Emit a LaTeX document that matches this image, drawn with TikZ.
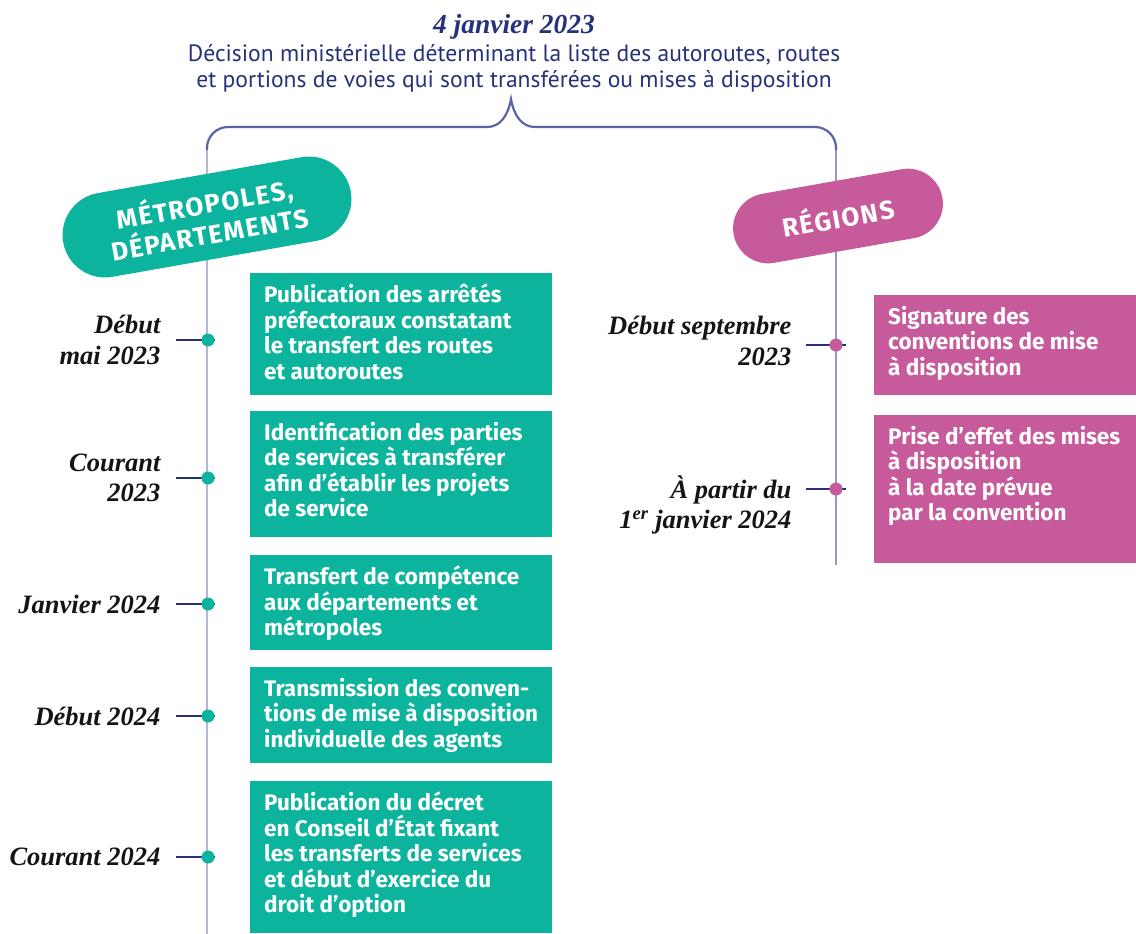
\documentclass[tikz,border=0pt]{standalone}
\usepackage{fontspec}
\setmainfont{Liberation Serif}
\newfontfamily\boxfont{Fira Sans}
\newfontfamily\pillfont[LetterSpace=6]{Fira Sans}
\newfontfamily\subfont{PT Sans}
\usetikzlibrary{calc}
\definecolor{tealc}{HTML}{0DB49D}
\definecolor{pinkc}{HTML}{C75A9B}
\definecolor{navyc}{HTML}{27307A}
\definecolor{bracec}{HTML}{5A63A6}
\definecolor{linec}{HTML}{B5B7D5}
\definecolor{linec2}{HTML}{9398C8}
\definecolor{labc}{HTML}{141414}
\newcommand{\bxt}[3]{\parbox[c][#1pt][t]{#2pt}{\raggedright #3}}
\tikzset{
  tbox/.style={fill=tealc, anchor=north west, inner xsep=14pt, inner ysep=11pt,
     text=white, font=\boxfont\bfseries\fontsize{22.5}{25.5}\selectfont},
  pbox/.style={tbox, fill=pinkc},
  datelab/.style={anchor=east, align=right, text=labc,
     font=\bfseries\itshape\fontsize{26.5}{30.5}\selectfont},
  tick/.style={draw=navyc, line width=1.6pt},
  dotL/.style={circle, fill=tealc, inner sep=0pt, minimum size=13pt},
  dotR/.style={circle, fill=pinkc, inner sep=0pt, minimum size=13pt},
  pill/.style={rounded corners=#1, inner sep=0pt, text=white, align=center,
     font=\pillfont\bfseries\fontsize{26}{29}\selectfont},
}
\begin{document}
\begin{tikzpicture}[x=1pt,y=-1pt]
\useasboundingbox (0,0) rectangle (1136,934);
% header
\node[text=navyc, font=\bfseries\itshape\fontsize{27.5}{30}\selectfont] (title) at (514,27) {4 janvier 2023};
\node[text=navyc, align=center, font=\subfont\fontsize{23.6}{26}\selectfont] (sub) at (514,68)
  {Décision ministérielle déterminant la liste des autoroutes, routes\\
   et portions de voies qui sont transférées ou mises à disposition};
% brace
\coordinate (cusp) at (511,99);
\coordinate (topL) at (207,150);
\coordinate (topR) at (836,150);
\coordinate (botL) at (207,934);
\coordinate (botR) at (836,565);
\draw[linec, line width=2.8pt] (topL) -- (botL);
\draw[linec2, line width=2.4pt] (topR) -- (botR);
\draw[bracec, line width=2.2pt] (topL) -- (207,148) arc[start angle=180, end angle=270, radius=21]
  -- (487,127) .. controls (500,127) and (508,116) .. (cusp)
  .. controls (514,116) and (522,127) .. (535,127) -- (815,127)
  arc[start angle=270, end angle=360, radius=21] -- (topR);
% pills
\node[pill=42.5pt, fill=tealc, minimum width=292pt, minimum height=85pt, rotate=10] (pillL) at (207,217)
  {MÉTROPOLES,\\DÉPARTEMENTS};
\node[pill=35pt, fill=pinkc, minimum width=212pt, minimum height=70pt, rotate=10] (pillR) at (838,216)
  {RÉGIONS};
% left boxes
\node[tbox] (b1) at (250,273) {\bxt{100}{274}{Publication des arrêtés\\préfectoraux constatant\\le transfert des routes\\et autoroutes}};
\node[tbox] (b2) at (250,411) {\bxt{104}{274}{Identification des parties\\de services à transférer\\afin d’établir les projets\\de service}};
\node[tbox] (b3) at (250,555) {\bxt{73}{274}{Transfert de compétence\\aux départements et\\métropoles}};
\node[tbox] (b4) at (250,667) {\bxt{74}{274}{Transmission des conven-\\tions de mise à disposition\\individuelle des agents}};
\node[tbox] (b5) at (250,781) {\bxt{130}{274}{Publication du décret\\en Conseil d’État fixant\\les transferts de services\\et début d’exercice du\\droit d’option}};
% right boxes
\node[pbox] (r1) at (874,295) {\bxt{78}{262}{Signature des\\conventions de mise\\à disposition}};
\node[pbox] (r2) at (874,415) {\bxt{126}{262}{Prise d’effet des mises\\à disposition\\à la date prévue\\par la convention}};
% left ticks
\foreach \n/\y in {1/340,2/478,3/604,4/716,5/857}{
  \coordinate (tl\n) at (176,\y);
  \coordinate (te\n) at (215,\y);
  \draw[tick] (tl\n) -- (te\n);
  \node[dotL] (dl\n) at (208,\y) {};
}
\foreach \n/\y in {1/345,2/489}{
  \coordinate (tr\n) at (806,\y);
  \coordinate (tre\n) at (846,\y);
  \draw[tick] (tr\n) -- (tre\n);
  \node[dotR] (dr\n) at (836,\y) {};
}
% date labels
\node[datelab] (l1) at (164,340) {Début\\mai 2023};
\node[datelab] (l2) at (164,478) {Courant\\2023};
\node[datelab] (l3) at (164,604) {Janvier 2024};
\node[datelab] (l4) at (164,716) {Début 2024};
\node[datelab] (l5) at (164,857) {Courant 2024};
\node[datelab] (m1) at (795,341) {Début septembre\\2023};
\node[datelab] (m2) at (795,505) {À partir du\\1\textsuperscript{er} janvier 2024};
\end{tikzpicture}
\end{document}
